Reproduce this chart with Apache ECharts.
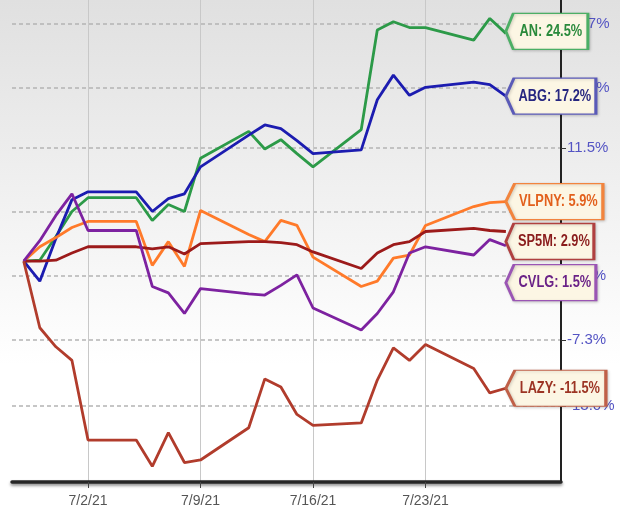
<!DOCTYPE html>
<html>
<head>
<meta charset="utf-8">
<script src="https://cdn.jsdelivr.net/npm/echarts@6/dist/echarts.min.js"></script>
<style>
  html, body { margin: 0; padding: 0; }
  #chart { width: 620px; height: 521px; }
</style>
</head>
<body>
<div id="chart"></div>
<script>
// trading days shown
const dates = ['6/28/21', '6/29/21', '6/30/21', '7/1/21', '7/2/21', '7/5/21', '7/6/21', '7/7/21', '7/8/21', '7/9/21',
  '7/12/21', '7/13/21', '7/14/21', '7/15/21', '7/16/21', '7/19/21', '7/20/21', '7/21/21', '7/22/21', '7/23/21',
  '7/26/21', '7/27/21', '7/28/21'];

// % change since 6/28/21
const anPct    = [0, 0.1, 2.4, 4.9, 6.3, 6.3, 4.0, 5.6, 4.9, 10.4, 13.3, 11.4, 12.4, 10.9, 9.5, 13.5, 24.9, 25.9, 25.2, 25.2, 23.7, 26.3, 24.5];
const abgPct   = [0, -1.9, 2.2, 6.1, 6.9, 6.9, 4.9, 6.2, 6.7, 9.5, 12.9, 14.0, 13.6, 12.3, 10.9, 11.3, 16.8, 19.6, 17.3, 18.2, 18.8, 18.5, 17.2];
const vlpnyPct = [0, 1.4, 2.3, 3.3, 3.9, 3.9, -0.4, 1.9, -0.5, 5.0, 2.6, 1.9, 4.0, 3.5, 0.4, -2.4, -1.9, 0.3, 0.6, 3.5, 5.4, 5.8, 5.9];
const sp5mPct  = [0, 0.0, 0.1, 0.8, 1.4, 1.4, 1.2, 1.4, 0.7, 1.7, 1.9, 1.9, 1.8, 1.6, 0.9, -0.7, 0.8, 1.6, 1.9, 2.9, 3.2, 3.0, 2.9];
const cvlgPct  = [0, 2.0, 4.5, 6.7, 3.0, 3.0, -2.4, -3.0, -4.9, -2.6, -3.1, -3.2, -2.3, -1.3, -4.4, -6.4, -4.9, -2.9, 0.8, 1.4, 0.6, 2.1, 1.5];
const lazyPct  = [0, -6.2, -7.9, -9.1, -15.8, -15.8, -17.9, -15.2, -17.6, -17.4, -14.8, -10.7, -11.4, -13.7, -14.6, -14.4, -10.8, -8.0, -9.1, -7.7, -9.8, -11.9, -11.5];

const xTickLabels = ['7/2/21', '7/9/21', '7/16/21', '7/23/21'];
const yTickPct = [25.7, 18.1, 11.5, 4.9, -1.4, -7.3, -13.0];

const FONT = "'Liberation Sans', Arial, sans-serif";

function dayNum(s) {
  const p = s.split('/');
  return Date.UTC(2000 + (+p[2]), +p[0] - 1, +p[1]) / 86400000;
}
const base = dayNum('7/2/21');
const xDays = dates.map(d => dayNum(d) - base);
const xTickDays = xTickLabels.map(d => dayNum(d) - base);

function fmtPct(v) { return v.toFixed(1) + '%'; }
function ratio(p) { return 1 + p / 100; }

const seriesDefs = [
  { name: 'AN',    data: anPct,    color: '#2c9a48', text: '#2a8a3c', border: '#4caf65', w: 82, dy: -2 },
  { name: 'ABG',   data: abgPct,   color: '#1c1cb0', text: '#262680', border: '#5a5ab8', w: 90, dy: 0 },
  { name: 'VLPNY', data: vlpnyPct, color: '#ff7a2a', text: '#e2601c', border: '#f2843e', w: 97, dy: 0 },
  { name: 'SP5M',  data: sp5mPct,  color: '#9c1a1a', text: '#8a1c1c', border: '#b04040', w: 88, dy: 10 },
  { name: 'CVLG',  data: cvlgPct,  color: '#7d22a0', text: '#6a2287', border: '#9a55b4', w: 90, dy: 37 },
  { name: 'LAZY',  data: lazyPct,  color: '#b13c2c', text: '#9c3424', border: '#c06048', w: 100, dy: 0 }
];

const series = seriesDefs.map(s => {
  const last = s.data.length - 1;
  return {
    name: s.name,
    type: 'line',
    data: s.data.map((v, i) => [xDays[i], ratio(v)]),
    showSymbol: false,
    symbol: 'none',
    lineStyle: { color: s.color, width: 2.8 },
    itemStyle: { color: s.color },
    animation: false,
    markPoint: {
      z: 10,
      animation: false,
      symbol: 'path://M0,18 L9,0 L100,0 L100,36 L9,36 Z',
      symbolKeepAspect: false,
      symbolSize: [s.w, 36],
      symbolOffset: [s.w / 2, s.dy],
      itemStyle: {
        color: '#fcf6e4', borderColor: s.border, borderWidth: 2,
        shadowColor: 'rgba(0,0,0,0.18)', shadowBlur: 3, shadowOffsetX: 1, shadowOffsetY: 1
      },
      label: { show: false },
      data: [{ coord: [xDays[last], ratio(s.data[last])] }]
    }
  };
});

const chart = echarts.init(document.getElementById('chart'));
chart.setOption({
  backgroundColor: {
    type: 'linear', x: 0, y: 0, x2: 0, y2: 1,
    colorStops: [
      { offset: 0, color: '#e0e0e0' },
      { offset: 0.7, color: '#ffffff' },
      { offset: 1, color: '#ffffff' }
    ]
  },
  animation: false,
  grid: { left: 12, right: 59, top: 0, bottom: 39 },
  xAxis: {
    type: 'value',
    min: -4.73,
    max: 29.43,
    axisLine: {
      show: true,
      lineStyle: { color: '#262626', width: 3.5, shadowColor: 'rgba(0,0,0,0.45)', shadowBlur: 3, shadowOffsetY: 2 }
    },
    axisTick: { show: true, length: 6, customValues: xTickDays, lineStyle: { color: '#444', width: 1 } },
    axisLabel: {
      customValues: xTickDays,
      margin: 12,
      color: '#555',
      fontSize: 14,
      fontFamily: FONT,
      formatter: v => xTickLabels[xTickDays.indexOf(Math.round(v))] || ''
    },
    splitLine: { show: true, lineStyle: { color: '#c8c8c8', width: 1 } }
  },
  yAxis: {
    type: 'log',
    position: 'right',
    min: 0.8087,
    max: 1.2856,
    axisLine: { show: true, onZero: false, lineStyle: { color: '#222', width: 2 } },
    axisTick: { show: true, length: 5, customValues: yTickPct.map(ratio), lineStyle: { color: '#333' } },
    axisLabel: {
      customValues: yTickPct.map(ratio),
      margin: 6,
      color: '#5454c4',
      fontSize: 15,
      fontFamily: FONT,
      formatter: v => fmtPct((v - 1) * 100)
    },
    splitLine: { show: true, lineStyle: { color: '#b4b4b4', width: 1.5, type: [4, 3] } }
  },
  series: series
});

// condensed end-label text, placed from the last point of each series
chart.setOption({
  graphic: seriesDefs.map(s => {
    const last = s.data.length - 1;
    const pt = chart.convertToPixel({ gridIndex: 0 }, [xDays[last], ratio(s.data[last])]);
    return {
      type: 'text',
      z: 100,
      x: pt[0] + s.w / 2 + 4,
      y: pt[1] + s.dy,
      scaleX: 0.8,
      style: {
        text: s.name + ': ' + fmtPct(s.data[last]),
        fill: s.text,
        font: 'bold 16px ' + FONT,
        align: 'center',
        verticalAlign: 'middle'
      }
    };
  })
});
</script>
</body>
</html>
